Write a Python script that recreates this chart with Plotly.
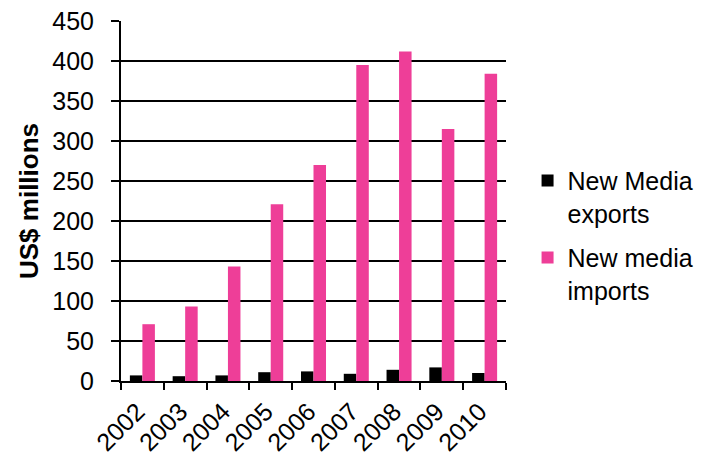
import plotly.graph_objects as go

years = ["2002", "2003", "2004", "2005", "2006", "2007", "2008", "2009", "2010"]
exports = [7, 6, 7, 11, 12, 9, 14, 17, 10]
imports = [71, 93, 143, 221, 270, 395, 412, 315, 384]
y_ticks = [0, 50, 100, 150, 200, 250, 300, 350, 400, 450]

FONT = "Liberation Sans, Arial, sans-serif"

fig = go.Figure()
fig.add_trace(go.Bar(x=years, y=exports, name="New Media<br>exports",
                     marker=dict(color="#000000", line=dict(width=0)),
                     legendgroup="a"))
fig.add_trace(go.Bar(x=years, y=imports, name="New media<br>imports",
                     marker=dict(color="#EE3E98", line=dict(width=0)),
                     legendgroup="b"))

fig.update_layout(
    template="none",
    width=704, height=457,
    margin=dict(l=121, r=198, t=21, b=76, pad=0, autoexpand=False),
    paper_bgcolor="white", plot_bgcolor="white",
    barmode="group", bargap=0.415, bargroupgap=0,
    font=dict(family=FONT, size=24, color="black"),
    showlegend=True,
    legend=dict(x=1.056, xanchor="left", y=0.62, yanchor="top",
                valign="top", tracegroupgap=9,
                font=dict(size=25, family=FONT, color="black"),
                bgcolor="rgba(0,0,0,0)"),
)
fig.update_xaxes(
    type="category", tickson="boundaries", ticks="outside", ticklen=7,
    tickwidth=2, tickcolor="black", tickangle=-45, automargin=False,
    showline=True, linecolor="black", linewidth=2,
    showgrid=False, tickfont=dict(size=25, family=FONT),
    ticklabelstandoff=4, ticklabelshift=-5, ticklabeloverflow="allow",
)
fig.update_yaxes(
    range=[0, 450], tickvals=y_ticks, ticks="outside", ticklen=8,
    tickwidth=2, tickcolor="black", automargin=False,
    showline=True, linecolor="black", linewidth=2,
    showgrid=True, gridcolor="black", gridwidth=2,
    zeroline=False, tickfont=dict(size=25, family=FONT),
    ticklabelstandoff=12, ticklabeloverflow="allow",
    title=dict(text="<b>US$ millions</b>", font=dict(size=26, family=FONT),
               standoff=6),
)

fig.write_html(
    "out.html",
    config={"displayModeBar": False},
    post_script="document.body.style.margin='0';document.body.style.overflow='hidden';",
)
